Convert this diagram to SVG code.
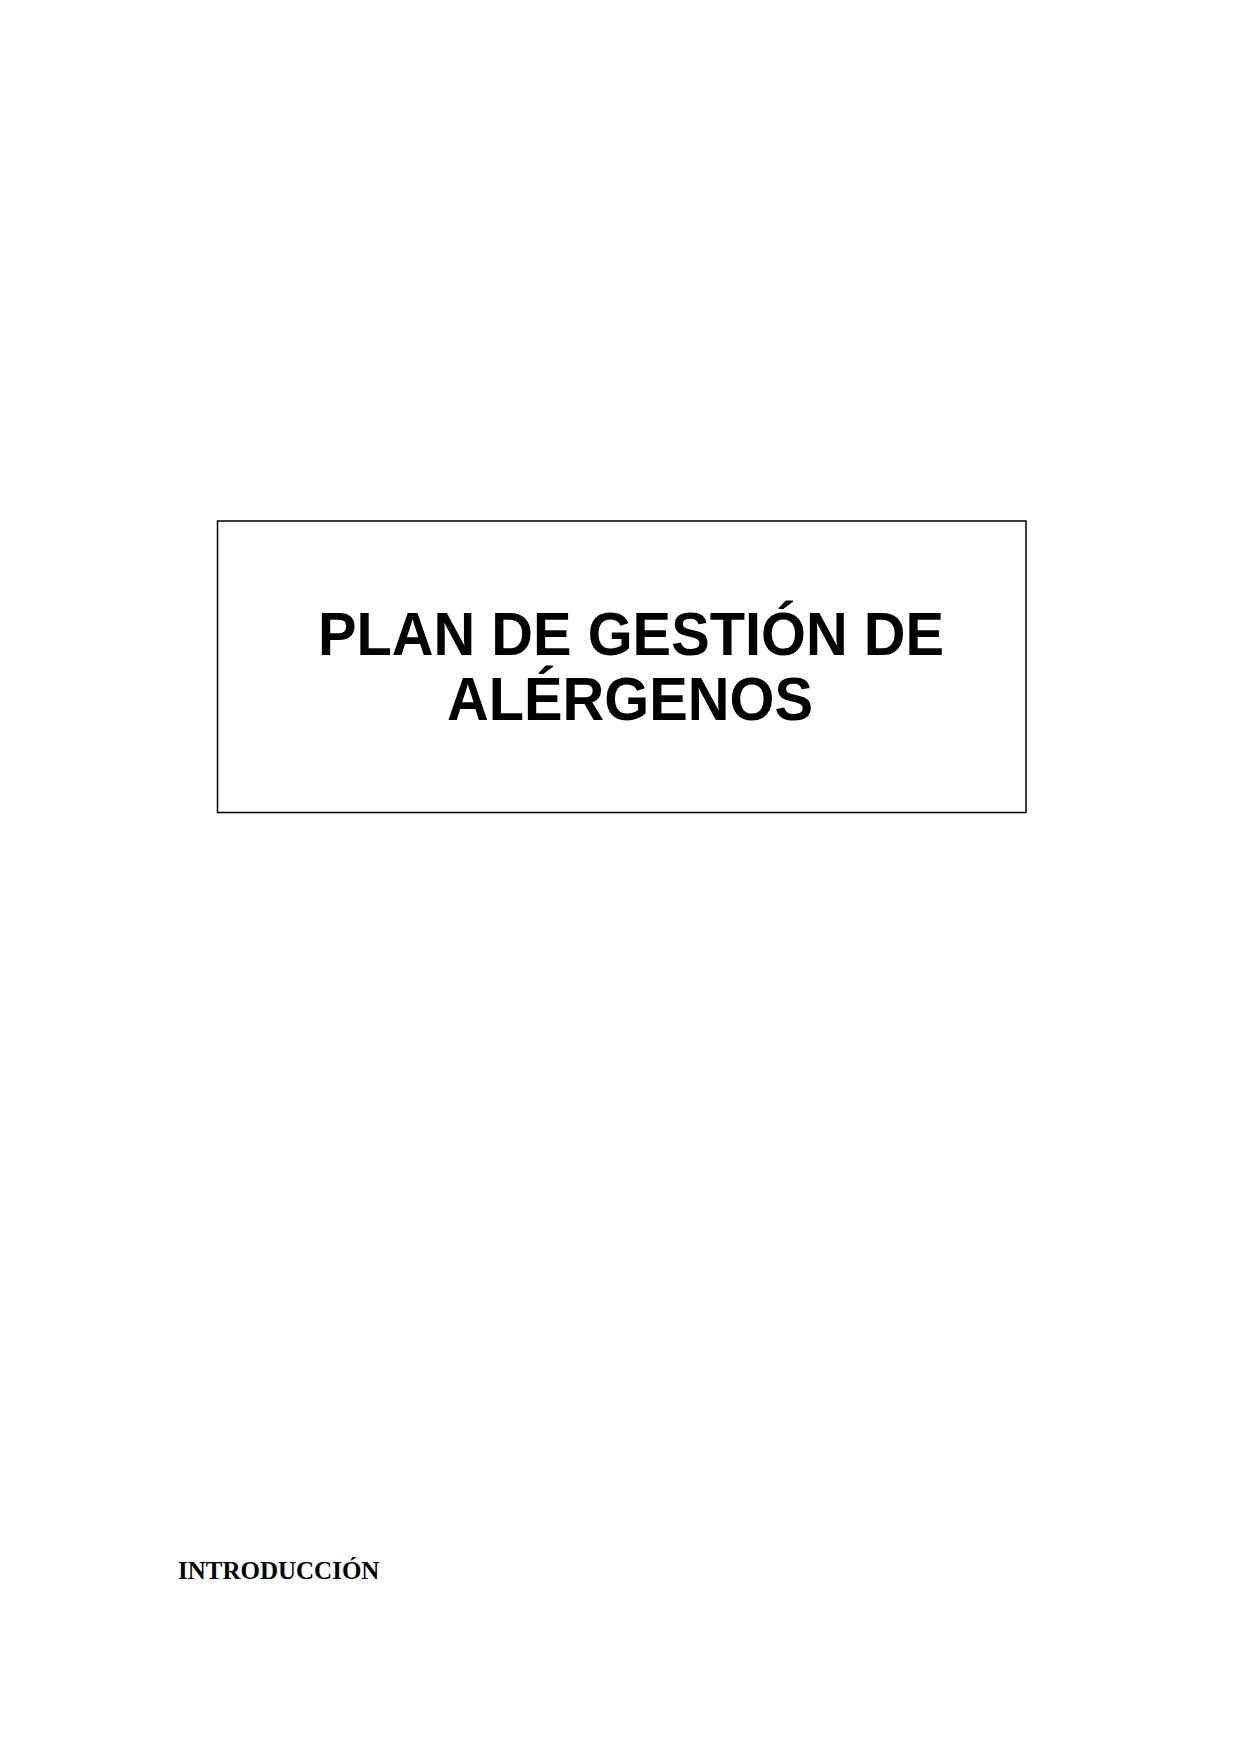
<svg xmlns="http://www.w3.org/2000/svg" width="1241" height="1754" viewBox="0 0 1241 1754">
<style>
.title{font-family:"Liberation Sans",Arial,sans-serif;font-weight:bold;font-size:62px;fill:#000}
.heading{font-family:"Liberation Serif","Times New Roman",serif;font-weight:bold;font-size:25px;fill:#000}
</style>
<rect x="0" y="0" width="1241" height="1754" fill="#fff"/>
<g id="title-box">
<rect x="217.5" y="521" width="808.5" height="291.5" fill="none" stroke="#000" stroke-width="1.5"/>
<text class="title" x="318" y="655" textLength="626" lengthAdjust="spacingAndGlyphs">PLAN DE GESTIÓN DE</text>
<text class="title" x="447" y="720" textLength="366" lengthAdjust="spacingAndGlyphs">ALÉRGENOS</text>
</g>
<g id="intro">
<text class="heading" x="178" y="1579">INTRODUCCIÓN</text>
</g>
<g id="connectors"/>
</svg>
